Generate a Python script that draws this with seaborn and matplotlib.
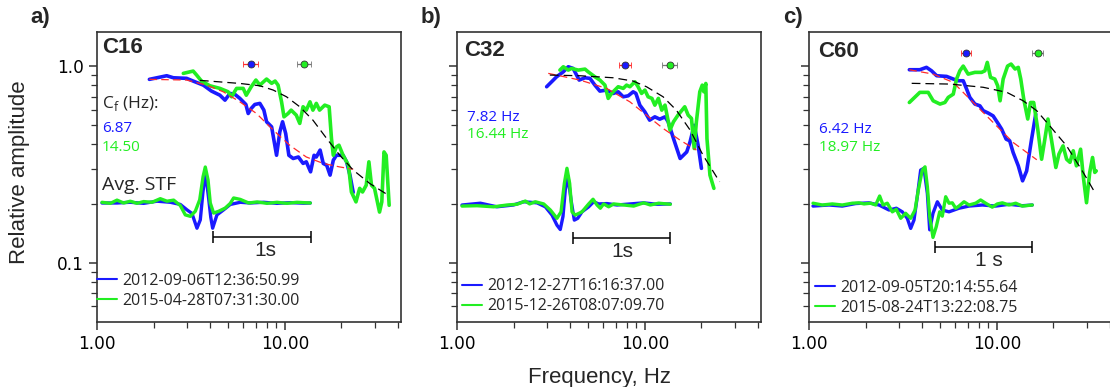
import numpy as np
import matplotlib
matplotlib.use("Agg")
import matplotlib.pyplot as plt
import matplotlib.ticker as mticker
from matplotlib.lines import Line2D
import seaborn as sns

# ---------------- data ----------------
panel_letters = ["a)", "b)", "c)"]
station_names = ["C16", "C32", "C60"]
event_labels = [
    ["2012-09-06T12:36:50.99", "2015-04-28T07:31:30.00"],
    ["2012-12-27T16:16:37.00", "2015-12-26T08:07:09.70"],
    ["2012-09-05T20:14:55.64", "2015-08-24T13:22:08.75"],
]
cf_blue = [6.87, 7.82, 6.42]
cf_green = [14.50, 16.44, 18.97]

# spectra (frequency Hz, relative amplitude)
fa_b = [1.90, 2.35, 2.55, 3.00, 3.25, 3.68, 4.07, 4.51, 4.80, 5.10, 5.42, 5.76, 6.20, 6.38, 6.62,
        6.92, 7.36, 7.73, 7.99, 8.50, 9.03, 9.40, 9.72, 10.1, 10.5, 11.07, 11.8, 12.5, 13.0, 13.7,
        14.3, 14.7, 15.4, 16.0, 16.7, 17.4, 18.1, 18.8, 20.4, 21.3, 22.2, 23.1]
aa_b = [0.856, 0.893, 0.872, 0.866, 0.839, 0.80, 0.746, 0.711, 0.671, 0.726, 0.718, 0.685, 0.638, 0.574, 0.609,
        0.638, 0.646, 0.597, 0.521, 0.491, 0.352, 0.463, 0.521, 0.454, 0.352, 0.339, 0.345, 0.32, 0.326, 0.29,
        0.352, 0.345, 0.374, 0.32, 0.313, 0.279, 0.332, 0.352, 0.352, 0.326, 0.279, 0.228]
fa_g = [2.88, 3.25, 3.39, 3.60, 3.99, 4.51, 4.99, 5.20, 5.53, 6.00, 6.23, 6.62, 7.01, 7.36, 7.99,
        8.50, 8.87, 9.20, 9.60, 9.89, 10.4, 10.8, 11.5, 12.0, 12.5, 13.0, 13.6, 14.1, 14.7, 15.3,
        16.3, 17.2, 17.7, 18.1, 18.8, 19.4, 20.4, 21.8, 22.6, 23.9, 25.0, 25.9, 27.1, 28.0, 28.9,
        30.0, 31.9, 32.8, 33.7, 34.6, 35.9]
aa_g = [0.918, 0.943, 0.90, 0.839, 0.794, 0.77, 0.74, 0.698, 0.77, 0.77, 0.711, 0.785, 0.849, 0.80, 0.859,
        0.817, 0.839, 0.80, 0.658, 0.552, 0.574, 0.597, 0.563, 0.511, 0.621, 0.597, 0.658, 0.597, 0.646, 0.597,
        0.633, 0.621, 0.428, 0.352, 0.388, 0.396, 0.352, 0.313, 0.229, 0.204, 0.239, 0.229, 0.248, 0.326, 0.248,
        0.239, 0.181, 0.204, 0.366, 0.352, 0.196]
fb_b = [3.0, 3.39, 3.68, 3.91, 4.15, 4.47, 4.80, 5.10, 5.42, 5.76, 6.25, 6.78, 7.21, 7.67, 8.15,
        8.66, 8.96, 9.40, 10.0, 10.6, 11.3, 12.0, 12.8, 13.3, 14.2, 15.4, 16.7, 17.4, 18.3, 19.2, 20.0]
ab_b = [0.785, 0.882, 0.935, 0.992, 0.973, 0.849, 0.872, 0.866, 0.80, 0.746, 0.755, 0.726, 0.74, 0.698, 0.706,
        0.74, 0.726, 0.633, 0.585, 0.531, 0.552, 0.537, 0.552, 0.521, 0.428, 0.339, 0.366, 0.412, 0.50, 0.396, 0.302]
fb_g = [3.53, 3.68, 3.91, 4.07, 4.42, 4.80, 4.99, 5.42, 5.76, 6.13, 6.38, 6.65, 6.92, 7.21, 7.67,
        7.99, 8.32, 8.85, 9.20, 9.60, 10.0, 10.4, 10.9, 11.3, 11.8, 12.3, 12.8, 13.6, 14.2, 15.0,
        16.3, 17.0, 17.7, 18.3, 18.8, 19.6, 20.2, 20.6, 21.1, 21.4, 22.2, 23.3]
ab_g = [0.954, 0.992, 0.954, 0.973, 0.954, 0.965, 0.935, 0.882, 0.849, 0.80, 0.685, 0.726, 0.755, 0.785, 0.77,
        0.80, 0.785, 0.832, 0.785, 0.726, 0.755, 0.698, 0.685, 0.633, 0.685, 0.597, 0.633, 0.473, 0.521, 0.563,
        0.621, 0.563, 0.542, 0.381, 0.521, 0.74, 0.80, 0.74, 0.816, 0.428, 0.279, 0.239]
fc_b = [3.42, 3.89, 4.22, 4.49, 4.78, 5.40, 5.86, 6.22, 6.62, 6.90, 7.18, 7.64, 8.12, 8.46, 8.99,
        9.55, 10.2, 10.6, 11.2, 11.7, 12.2, 13.0, 13.7, 14.4, 15.3, 16.1]
ac_b = [0.958, 0.958, 0.985, 0.946, 0.893, 0.886, 0.859, 0.842, 0.842, 0.764, 0.693, 0.641, 0.628, 0.593, 0.577,
        0.558, 0.507, 0.478, 0.425, 0.417, 0.364, 0.311, 0.261, 0.293, 0.425, 0.57]
fc_g = [3.42, 3.89, 4.31, 4.58, 4.98, 5.29, 5.51, 5.86, 6.10, 6.35, 6.62, 7.03, 7.64, 8.29, 8.63,
        8.89, 9.25, 9.75, 10.1, 10.4, 10.8, 11.4, 11.9, 12.5, 13.0, 13.4, 13.9, 14.6, 15.1, 15.7,
        16.5, 17.3, 18.0, 18.7, 19.5, 20.6, 21.4, 22.5, 23.5, 24.5, 25.5, 26.5, 27.9, 28.8, 30.0,
        31.2, 32.3, 33.2, 33.8]
ac_g = [0.653, 0.735, 0.735, 0.666, 0.641, 0.653, 0.693, 0.72, 0.859, 0.946, 1.0, 0.91, 0.929, 0.929, 0.946,
        1.044, 0.876, 0.859, 0.794, 0.666, 0.859, 1.0, 1.024, 0.966, 0.985, 0.859, 0.679, 0.538, 0.653, 0.653,
        0.478, 0.336, 0.425, 0.538, 0.425, 0.305, 0.357, 0.393, 0.336, 0.324, 0.371, 0.311, 0.378, 0.277, 0.202,
        0.288, 0.343, 0.288, 0.293]

# fitted model spectra
fit_red_f = [[1.9, 3.0, 3.83, 4.7, 5.76, 7.06, 8.67, 10.6, 13.0, 16.0, 19.6, 23.1],
             [3.06, 4.51, 6.25, 8.32, 10.2, 12.5, 15.4, 18.8],
             [3.42, 4.58, 5.86, 7.48, 9.55, 12.2, 16.3]]
fit_red_a = [[0.856, 0.849, 0.80, 0.74, 0.658, 0.574, 0.473, 0.396, 0.345, 0.32, 0.307, 0.299],
             [0.918, 0.849, 0.77, 0.658, 0.563, 0.482, 0.42, 0.374],
             [0.958, 0.91, 0.826, 0.653, 0.517, 0.409, 0.334]]
fit_blk_f = [[3.53, 5.76, 7.36, 8.67, 10.2, 12.0, 14.1, 16.7, 19.6, 23.1, 28.3, 35.4],
             [3.12, 4.51, 6.78, 8.66, 10.2, 12.5, 14.7, 17.4, 20.4, 25.0],
             [3.52, 5.62, 8.46, 11.3, 13.8, 16.3, 19.1, 23.5, 28.8, 33.2]]
fit_blk_a = [[0.846, 0.816, 0.794, 0.755, 0.698, 0.621, 0.531, 0.428, 0.352, 0.296, 0.253, 0.221],
             [0.90, 0.893, 0.872, 0.839, 0.785, 0.698, 0.597, 0.473, 0.352, 0.258],
             [0.817, 0.81, 0.78, 0.735, 0.666, 0.593, 0.497, 0.393, 0.288, 0.228]]

# corner-frequency markers (centre, lower, upper) and their height
mark_blue = [[6.57, 5.96, 7.21], [7.83, 7.28, 8.40], [6.84, 6.41, 7.28]]
mark_green = [[12.7, 11.67, 13.7], [13.6, 12.4, 14.8], [16.5, 15.3, 17.6]]
mark_y = [1.02, 1.01, 1.16]

# average source time functions (time s, normalised amplitude)
ta_b = [0, 0.153, 0.289, 0.425, 0.561, 0.697, 0.799, 0.867, 0.918, 0.969, 1.003, 1.030, 1.055, 1.085,
        1.110, 1.129, 1.173, 1.241, 1.309, 1.411, 1.513, 1.649, 1.785, 1.921, 2.057, 2.126]
va_b = [0, 0, 0.02, -0.01, 0.05, 0.02, -0.04, -0.19, -0.29, -0.70, -0.47, 0.30, 0.85, 0.20,
        -0.40, -0.70, -0.33, -0.19, -0.04, 0.02, 0, 0.02, -0.01, 0.01, -0.005, 0]
ta_g = [0, 0.085, 0.153, 0.221, 0.289, 0.357, 0.425, 0.51, 0.595, 0.663, 0.731, 0.799, 0.85, 0.901,
        0.952, 0.997, 1.031, 1.054, 1.082, 1.105, 1.139, 1.19, 1.258, 1.309, 1.343, 1.411, 1.497,
        1.582, 1.684, 1.785, 1.887, 1.989, 2.126]
va_g = [0.02, -0.01, 0.08, 0, 0.05, -0.01, 0.04, 0.02, 0.12, 0.05, 0.08, -0.07, -0.33, -0.37,
        -0.23, 0.09, 0.73, 1.0, 0.64, 0, -0.28, -0.23, -0.14, -0.01, 0.14, 0.10, 0,
        0.03, -0.01, 0.02, -0.01, 0.02, 0]
tb_b = [0, 0.19, 0.36, 0.53, 0.636, 0.773, 0.859, 0.928, 0.979, 1.013, 1.041, 1.065, 1.093, 1.124,
        1.158, 1.193, 1.237, 1.306, 1.357, 1.409, 1.495, 1.598, 1.735, 1.873, 2.01, 2.148]
vb_b = [0, 0.05, -0.05, 0, 0.09, 0.06, -0.05, -0.28, -0.56, -0.68, -0.32, 0.42, 0.79, 0.14,
        -0.42, -0.37, -0.19, -0.05, 0.09, 0.03, 0.04, 0, 0.03, 0.06, 0.02, 0.03]
tb_g = [0, 0.155, 0.326, 0.464, 0.567, 0.653, 0.697, 0.756, 0.842, 0.911, 0.979, 1.021, 1.055, 1.082,
        1.11, 1.134, 1.168, 1.237, 1.306, 1.351, 1.392, 1.426, 1.46, 1.512, 1.564, 1.667, 1.77,
        1.873, 1.942, 2.028, 2.148]
vb_g = [-0.03, -0.02, -0.05, 0, 0.02, 0.11, 0.03, 0.09, 0.03, -0.14, -0.37, -0.19, 0.6, 1.02,
        0.6, -0.19, -0.28, -0.19, 0.03, 0.16, 0, -0.09, 0.03, -0.05, 0.03, 0, -0.03,
        0.06, 0, 0.05, 0.02]
tc_b = [0, 0.165, 0.302, 0.44, 0.577, 0.68, 0.784, 0.859, 0.921, 0.972, 1.007, 1.041, 1.075, 1.11,
        1.144, 1.179, 1.203, 1.237, 1.282, 1.333, 1.402, 1.505, 1.608, 1.746, 1.883, 2.021, 2.158, 2.261]
vc_b = [-0.03, 0, -0.03, 0.04, 0.06, 0, -0.14, -0.09, -0.19, -0.37, -0.65, -0.42, 0.23, 0.97,
        1.02, 0.32, -0.69, -0.23, 0.09, -0.14, -0.19, -0.09, -0.03, 0, -0.03, 0.02, -0.02, 0]
tc_g = [0, 0.096, 0.199, 0.302, 0.405, 0.474, 0.526, 0.595, 0.646, 0.687, 0.722, 0.766, 0.818, 0.859,
        0.904, 0.955, 1.007, 1.052, 1.086, 1.127, 1.155, 1.179, 1.203, 1.237, 1.271, 1.306, 1.333,
        1.368, 1.402, 1.436, 1.471, 1.505, 1.557, 1.608, 1.677, 1.728, 1.78, 1.848, 1.9, 1.952,
        2.021, 2.09, 2.158, 2.261]
vc_g = [0.05, 0, 0.03, 0, 0.05, 0.06, 0.03, 0.05, 0, 0.25, 0, 0.05, -0.19, -0.12,
        -0.37, -0.23, -0.37, -0.14, 0.42, 0.97, 1.06, 0.51, -0.32, -0.9, -0.6, -0.19, -0.31,
        0.23, 0.05, 0.06, -0.09, -0.03, 0.09, 0, 0.05, 0.14, 0.05, -0.06, 0.03, 0.06,
        0, 0.05, -0.03, 0]

scale_start = [1.13, 1.144, 1.258]   # start time of the 1-second scale bar
scale_len = 1.0
scale_text = ["1s", "1s", "1 s"]

spec_blue = [(fa_b, aa_b), (fb_b, ab_b), (fc_b, ac_b)]
spec_green = [(fa_g, aa_g), (fb_g, ab_g), (fc_g, ac_g)]
stf_blue = [(ta_b, va_b), (tb_b, vb_b), (tc_b, vc_b)]
stf_green = [(ta_g, va_g), (tb_g, vb_g), (tc_g, vc_g)]

# ---------------- style / layout ----------------
sns.set_style("ticks")
plt.rcParams["font.family"] = ["DejaVu Sans"]

BLUE = "#1a1aff"
GREEN = "#22ee22"
RED = "#ff2a2a"
SPINE = "#333333"

W, H = 1110, 387
fig = plt.figure(figsize=(W / 100, H / 100), dpi=100)

ax_left_px = [97, 457, 809]
ax_w_px, ax_top_px, ax_bot_px = 304, 32, 322
# STF inset mapping: pixel of t=0, pixels per second, pixel of baseline, pixels per unit
stf_t0_px = [102, 462, 813]
stf_pps = [98, 97, 97]
stf_base_px = [203, 205, 205]
stf_unit_px = 36.0
scale_bar_y = [-0.94, -0.91, -1.16]
scale_text_dx = [0.04, 0.01, 0.05]

# per-panel text positions (axes fraction)
name_pos = [(0.016, 0.945), (0.023, 0.936), (0.030, 0.934)]
val_pos = [(0.016, 0.666, 0.603), (0.033, 0.705, 0.645), (0.033, 0.664, 0.602)]
leg_pos = [(0.0, 0.107), (0.017, 0.088), (0.021, 0.084)]
letter_px = [(30, 18), (421, 18), (783, 18)]

axes = []
for i in range(3):
    l = ax_left_px[i] / W
    b = (H - ax_bot_px) / H
    ax = fig.add_axes([l, b, ax_w_px / W, (ax_bot_px - ax_top_px) / H])
    axes.append(ax)
    ax.set_xscale("log")
    ax.set_yscale("log")

    fb, ab = spec_blue[i]
    fg, ag = spec_green[i]
    sns.lineplot(x=fb, y=ab, ax=ax, color=BLUE, linewidth=2.6, estimator=None, sort=False, zorder=2)
    sns.lineplot(x=fg, y=ag, ax=ax, color=GREEN, linewidth=2.6, estimator=None, sort=False, zorder=2)
    sns.lineplot(x=fit_red_f[i], y=fit_red_a[i], ax=ax, color=RED, linewidth=0.9,
                 linestyle=(0, (6, 3.5)), estimator=None, sort=False, zorder=3)
    sns.lineplot(x=fit_blk_f[i], y=fit_blk_a[i], ax=ax, color="black", linewidth=0.9,
                 linestyle=(0, (7, 4)), estimator=None, sort=False, zorder=3)

    for mk, fc, ec in [(mark_blue[i], BLUE, RED), (mark_green[i], GREEN, "#777777")]:
        c, lo, hi = mk
        ax.errorbar([c], [mark_y[i]], xerr=[[c - lo], [hi - c]], fmt="o", ms=5,
                    mfc=fc, mec="#333333", mew=0.6, ecolor=ec, elinewidth=0.9,
                    capsize=2, capthick=0.9, zorder=4)

    ax.set_xlim(1.0, 41.5)
    ax.set_ylim(0.05, 1.49)

    # axis styling
    for s in ax.spines.values():
        s.set_color(SPINE)
        s.set_linewidth(1.2)
    ax.xaxis.set_major_locator(mticker.FixedLocator([1, 10]))
    ax.xaxis.set_major_formatter(mticker.FormatStrFormatter("%.2f"))
    ax.xaxis.set_minor_locator(mticker.FixedLocator([2, 3, 4, 5, 6, 7, 8, 9, 20, 30, 40]))
    ax.xaxis.set_minor_formatter(mticker.NullFormatter())
    ax.yaxis.set_major_locator(mticker.FixedLocator([0.1, 1.0]))
    ax.yaxis.set_major_formatter(mticker.FormatStrFormatter("%.1f"))
    ax.yaxis.set_minor_locator(mticker.FixedLocator([0.06, 0.07, 0.08, 0.09, 0.2, 0.3, 0.4,
                                                     0.5, 0.6, 0.7, 0.8, 0.9]))
    ax.yaxis.set_minor_formatter(mticker.NullFormatter())
    ax.tick_params(which="both", direction="out", color=SPINE, top=False, right=False,
                   labelsize=12.2, labelcolor="black")
    ax.tick_params(which="major", length=6, width=1.1)
    ax.tick_params(which="minor", length=4, width=0.9, labelbottom=False, labelleft=False)
    if i > 0:
        ax.tick_params(which="major", labelleft=False)
    ax.set_xlabel("")
    ax.set_ylabel("")

    # station name and corner frequencies
    ax.text(name_pos[i][0], name_pos[i][1], station_names[i], transform=ax.transAxes,
            fontsize=16, fontweight="bold", family="Liberation Sans", va="center", ha="left")
    vx, vy1, vy2 = val_pos[i]
    if i == 0:
        ax.text(vx, 0.755, r"C$_\mathregular{f}$ (Hz):", transform=ax.transAxes, fontsize=12.5,
                family="Open Sans", va="center", ha="left")
        t1, t2 = f"{cf_blue[i]:.2f}", f"{cf_green[i]:.2f}"
    else:
        t1, t2 = f"{cf_blue[i]:.2f} Hz", f"{cf_green[i]:.2f} Hz"
    ax.text(vx, vy1, t1, transform=ax.transAxes, fontsize=11, family="Open Sans",
            color=BLUE, va="center", ha="left")
    ax.text(vx, vy2, t2, transform=ax.transAxes, fontsize=11, family="Open Sans",
            color=GREEN, va="center", ha="left")
    if i == 0:
        ax.text(vx, 0.471, "Avg. STF", transform=ax.transAxes, fontsize=14,
                family="Open Sans", va="center", ha="left")

    # STF inset (linear time axis, no ticks)
    ins = ax.inset_axes([0, 0, 1, 1], zorder=5)
    pps = stf_pps[i]
    tb_, vb_ = stf_blue[i]
    tg_, vg_ = stf_green[i]
    sns.lineplot(x=tb_, y=vb_, ax=ins, color=BLUE, linewidth=2.4, estimator=None, sort=False)
    sns.lineplot(x=tg_, y=vg_, ax=ins, color=GREEN, linewidth=2.4, estimator=None, sort=False)
    ybar = scale_bar_y[i]
    ins.errorbar([scale_start[i] + scale_len / 2], [ybar], xerr=[scale_len / 2], fmt="none",
                 ecolor="black", elinewidth=1.1, capsize=4, capthick=1.1)
    ins.text(scale_start[i] + scale_len / 2 + scale_text_dx[i], ybar - 0.37, scale_text[i],
             fontsize=15, family="Liberation Sans", ha="center", va="center")
    ins.set_xlim((ax_left_px[i] - stf_t0_px[i]) / pps,
                 (ax_left_px[i] + ax_w_px - stf_t0_px[i]) / pps)
    ins.set_ylim((stf_base_px[i] - ax_bot_px) / stf_unit_px,
                 (stf_base_px[i] - ax_top_px) / stf_unit_px)
    ins.set_xticks([])
    ins.set_yticks([])
    ins.set_xlabel("")
    ins.set_ylabel("")
    ins.set_axis_off()
    ins.patch.set_alpha(0)

    # legend
    handles = [Line2D([0], [0], color=BLUE, lw=1.5), Line2D([0], [0], color=GREEN, lw=1.5)]
    ax.legend(handles, event_labels[i], loc="center left", bbox_to_anchor=leg_pos[i],
              frameon=False, prop={"family": "Open Sans", "size": 11.5},
              handlelength=1.25, handletextpad=0.3, labelspacing=0.25, borderpad=0,
              borderaxespad=0)

    fig.text(letter_px[i][0] / W, 1 - letter_px[i][1] / H, panel_letters[i], fontsize=16,
             fontweight="bold", family="Liberation Sans", ha="left", va="center")

axes[0].set_ylabel("Relative amplitude", fontsize=16, family="Liberation Sans")
axes[0].yaxis.set_label_coords(-0.22, 0.517)
axes[1].set_xlabel("Frequency, Hz", fontsize=16, family="Liberation Sans")
axes[1].xaxis.set_label_coords(0.47, -0.155)

fig.savefig("out.png", dpi=100)
